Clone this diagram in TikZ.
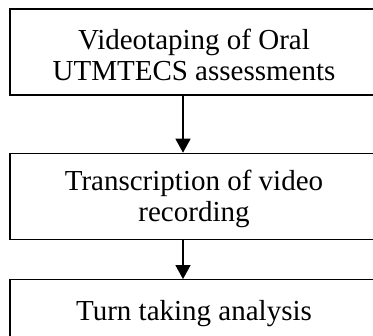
\documentclass[tikz,border=0pt]{standalone}
\usepackage{fontspec}
\setmainfont{Liberation Serif}
\usepackage{xcolor}
\usepackage{tikz}
\usetikzlibrary{positioning, arrows.meta}

\newcommand{\topgap}{\rule{0pt}{26pt}}

\begin{document}
\begin{tikzpicture}[
    x=1pt, y=1pt,
    box/.style={rectangle, draw, line width=1.4pt, fill=white, minimum width=368pt, minimum height=86pt, align=center, font=\fontsize{29}{31}\selectfont},
    arrow/.style={-{Triangle[length=14pt, width=15pt]}, line width=1.4pt}
]
\useasboundingbox (0,0) rectangle (373,-336);
\node[box] (video) at (194,-52) {\topgap Videotaping of Oral\\UTMTECS assessments};
\node[box, below=57pt of video] (transcr) {\topgap Transcription of video\\recording};
\node[box, below=39pt of transcr] (turn) {\topgap Turn taking analysis\\\mbox{}};

\draw[arrow] ([xshift=-11pt]video.south) -- ([xshift=-11pt]transcr.north);
\draw[arrow] ([xshift=-11pt]transcr.south) -- ([xshift=-11pt]turn.north);
\end{tikzpicture}
\end{document}
